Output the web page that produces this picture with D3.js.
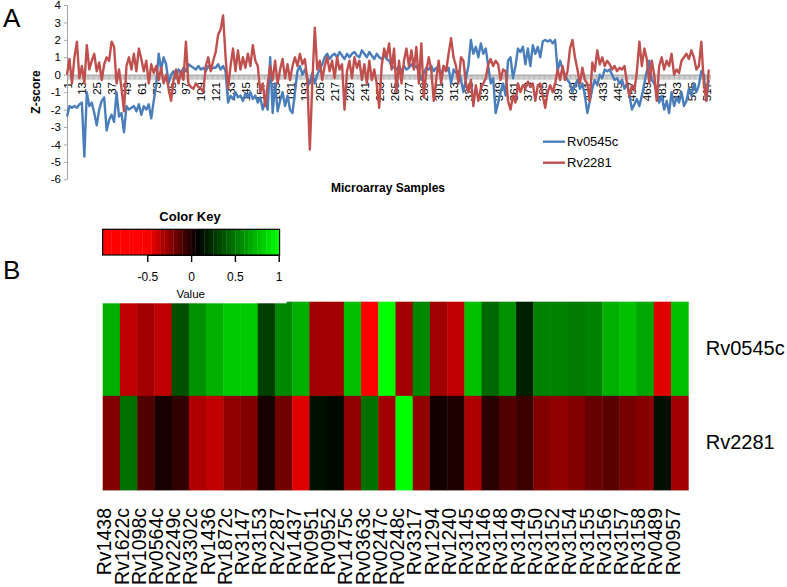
<!DOCTYPE html>
<html>
<head>
<meta charset="utf-8">
<script src="https://cdn.jsdelivr.net/npm/d3@7"></script>
<style>
  body { margin: 0; background: #fff; }
  svg { display: block; font-family: "Liberation Sans", Arial, sans-serif; }
</style>
</head>
<body>
<svg id="chart" width="787" height="587"></svg>
<script>
// Panel A: z-scores per microarray sample (read every other sample)
const seriesNames = ['Rv0545c', 'Rv2281'];
const sampleIds = d3.range(1, 520, 2);
const rv0545cZ = [
  -2.4,-1.8,-1.9,-1.8,-1.9,-1.7,-1.6,-4.7,-1.0,-1.8,
  -1.6,-2.2,-2.9,-2.0,-1.5,-1.3,-3.2,-2.6,-2.3,-2.7,
  -1.0,-2.4,-2.2,-3.3,-1.8,-2.0,-1.9,-1.8,-2.1,-1.7,
  -2.3,-1.8,-2.0,-1.7,-2.5,-1.5,-0.6,1.2,0.3,1.0,
  0.6,-0.5,0.0,0.2,-0.2,0.3,0.1,0.4,0.2,0.6,
  0.5,0.4,0.3,0.5,0.3,0.4,0.2,0.5,0.3,0.4,
  0.4,0.6,0.3,0.5,0.2,-1.6,-1.2,-1.4,-1.0,-1.3,
  -1.2,-1.5,-1.1,-1.3,-1.0,-1.4,-1.2,-1.6,-1.3,-2.0,
  -1.5,-2.0,1.0,-2.2,-0.5,-2.1,-1.5,-1.0,-1.8,-1.2,
  -2.0,-2.2,-1.0,0.2,0.5,0.0,0.3,-0.2,-0.5,0.1,
  -0.5,0.0,0.3,0.6,1.0,1.2,0.9,1.1,1.2,1.0,
  1.3,1.1,0.9,1.2,1.0,1.2,1.3,1.1,1.0,1.4,
  1.2,1.0,1.3,1.1,0.9,1.2,1.0,0.9,1.1,0.9,
  0.8,0.5,0.4,0.3,0.5,0.2,0.5,0.3,0.4,0.6,
  0.4,0.5,0.2,-0.3,0.1,0.4,0.3,0.5,0.2,0.4,
  0.3,0.0,0.5,0.2,0.4,-0.5,0.3,0.1,0.2,-0.3,
  -1.0,-0.2,0.5,2.0,1.2,1.6,1.0,1.8,1.2,1.5,
  0.5,-0.5,-0.2,-2.2,-1.6,-1.0,-0.5,-1.2,0.8,1.0,
  -0.2,0.5,1.5,1.3,1.6,0.6,1.5,0.5,1.7,1.2,
  1.6,1.0,1.9,2.0,1.9,2.0,1.8,2.0,0.2,0.8,
  0.3,0.0,-0.3,-0.5,-1.0,-0.6,-0.3,-0.8,-0.5,-1.2,
  -2.2,-1.5,-0.8,-0.3,-0.6,0.0,-0.2,0.3,0.2,0.3,
  0.0,-0.3,-0.2,-0.5,-0.3,-0.8,-0.5,-1.2,-2.0,-1.7,
  -1.4,-1.8,-1.2,-0.5,0.2,0.8,-0.3,-0.5,-1.0,-1.6,
  -1.2,-2.0,-1.5,-2.2,-1.0,-1.8,-1.3,-1.6,-1.0,-1.8,
  -1.5,-0.8,-1.2,-0.5,-1.0,-0.6,0.2,0.0,-1.5,-0.3
];
const rv2281Z = [
  0.0,0.9,-0.5,1.0,1.9,-0.2,0.5,-0.5,1.7,0.3,
  0.8,1.2,0.2,0.7,-0.3,0.6,1.0,0.8,1.9,1.6,
  -0.5,0.3,-0.8,-2.1,0.5,1.0,0.3,1.2,0.2,1.5,
  0.9,0.2,0.8,-0.5,0.6,0.1,0.5,-0.3,0.4,-0.5,
  0.0,-0.8,-1.5,-0.3,0.3,-0.5,0.2,-0.3,1.9,-0.5,
  -0.7,-0.8,-0.5,-0.7,-0.8,-1.0,0.5,1.0,0.2,0.8,
  1.3,2.3,2.6,3.4,1.0,-0.8,0.5,1.5,0.2,1.4,
  0.3,1.0,0.4,1.2,0.5,1.7,0.8,0.5,-1.0,-0.5,
  -1.8,-0.5,0.5,-0.3,0.8,-0.5,0.3,0.9,-0.2,0.6,
  -0.3,0.5,1.0,0.5,1.2,0.6,0.9,-0.3,-4.3,-0.5,
  2.7,0.3,0.8,-0.3,0.5,1.0,0.2,0.8,-0.2,1.0,
  0.3,0.6,-2.0,0.2,0.8,-0.2,1.0,0.4,0.8,-0.3,
  0.6,-0.5,0.8,-0.3,0.3,-0.5,-1.9,0.5,1.5,1.0,
  1.8,0.3,1.5,-1.0,0.8,-0.5,0.8,1.5,0.5,1.4,
  0.3,1.6,-0.5,1.8,-1.3,0.2,1.0,0.3,-1.5,-0.3,
  0.8,-0.5,0.5,0.2,1.2,2.1,1.0,0.5,-0.5,1.0,
  0.8,-0.5,-1.0,-0.3,-1.8,-0.6,-1.5,-0.8,-0.5,-0.2,
  0.6,0.9,0.5,0.8,0.6,-0.3,0.3,0.2,-1.5,-2.0,
  -1.2,-1.6,-0.5,-1.0,-0.6,-0.8,-0.4,-0.7,-0.5,-1.5,
  -0.6,-0.5,-1.2,-1.9,-1.0,-0.6,-1.0,-0.5,0.3,-0.3,
  0.5,-0.3,0.2,1.5,2.0,1.0,0.3,-0.5,0.4,-0.3,
  -0.5,-1.5,0.7,0.2,1.4,0.6,1.0,0.5,0.8,0.6,
  0.3,0.5,0.2,0.4,0.3,0.5,-0.5,-1.2,-0.6,-0.9,
  0.2,1.9,0.5,1.5,0.9,-0.5,0.8,0.0,-1.5,0.5,
  1.0,0.3,0.8,0.5,1.2,0.0,0.3,0.1,0.8,1.0,
  1.2,0.9,1.4,1.0,0.3,0.5,1.9,-0.5,-1.5,0.3
];
const sampleTicks = [1, 13, 25, 37, 49, 61, 73, 85, 97, 109, 121, 133, 145, 157, 169,
  181, 193, 205, 217, 229, 241, 253, 265, 277, 289, 301, 313, 325, 337, 349, 361,
  373, 385, 397, 409, 421, 433, 445, 457, 469, 481, 493, 505, 517];
const zTicks = [4, 3, 2, 1, 0, -1, -2, -3, -4, -5, -6];

// Panel B: heatmap
const genes = ['Rv1438', 'Rv1622c', 'Rv1098c', 'Rv0564c', 'Rv2249c', 'Rv3302c', 'Rv1436',
  'Rv1872c', 'Rv3147', 'Rv3153', 'Rv2287', 'Rv1437', 'Rv0951', 'Rv0952', 'Rv1475c',
  'Rv0363c', 'Rv0247c', 'Rv0248c', 'Rv3317', 'Rv1294', 'Rv1240', 'Rv3145', 'Rv3146',
  'Rv3148', 'Rv3149', 'Rv3150', 'Rv3152', 'Rv3154', 'Rv3155', 'Rv3156', 'Rv3157',
  'Rv3158', 'Rv0489', 'Rv0957'];
const heatRows = ['Rv0545c', 'Rv2281'];
const heatRv0545c = [0.71, -0.36, -0.29, -0.36, 0.36, 0.60, 0.71, 0.81, 0.81, 0.30, 0.57,
  0.71, -0.29, -0.29, 0.77, -0.55, 1.0, -0.29, 0.57, -0.29, -0.36, 0.77, 0.45, 0.60,
  0.19, 0.54, 0.54, 0.52, 0.54, 0.71, 0.77, 0.68, -0.43, 0.77];
const heatRv2281 = [-0.22, 0.48, -0.11, 0.02, -0.04, -0.32, -0.36, -0.25, -0.22, 0.02,
  -0.18, -0.43, 0.13, 0.10, -0.25, 0.48, -0.29, 1.0, -0.25, 0.03, 0.0, -0.32, -0.02,
  -0.11, -0.06, -0.22, -0.25, -0.22, -0.16, -0.13, -0.20, -0.23, 0.13, -0.29];
const keyTicks = [-0.5, 0, 0.5, 1];

const svg = d3.select('#chart');
const font = '"Liberation Sans", Arial, sans-serif';
const plain = d => String(d); // keep ASCII hyphen for negatives

// ---------- A ----------
const x = d3.scaleLinear().domain([1, 520]).range([67, 710]);
const y = d3.scaleLinear().domain([-6, 4]).range([179.3, 5]);

svg.append('text').attr('x', 3).attr('y', 27).attr('font-size', 26).text('A');
svg.append('text').attr('x', 3).attr('y', 279).attr('font-size', 26).text('B');

// dense category ticks along the zero line
svg.append('g')
  .attr('transform', `translate(0,${y(0)})`)
  .call(d3.axisBottom(x).tickValues(d3.range(1, 521)).tickSize(5).tickSizeOuter(0).tickFormat(''))
  .call(g => g.selectAll('line').attr('stroke', '#a6a6a6').attr('stroke-width', 0.8))
  .call(g => g.select('.domain').attr('stroke', '#a6a6a6'));

svg.append('g')
  .attr('transform', `translate(0,${y(0)})`)
  .call(d3.axisBottom(x).tickValues(sampleTicks).tickSize(0).tickFormat(plain))
  .call(g => g.select('.domain').remove())
  .call(g => g.selectAll('text')
    .attr('font-family', font).attr('font-size', 11.5).attr('fill', '#000')
    .attr('y', 0).attr('x', -7.3).attr('dy', '0.35em')
    .attr('transform', 'rotate(-90)')
    .style('text-anchor', 'end'));

svg.append('g')
  .attr('transform', 'translate(67,0)')
  .call(d3.axisLeft(y).tickValues(zTicks).tickSize(3).tickSizeOuter(0).tickPadding(3).tickFormat(plain))
  .call(g => g.select('.domain').attr('stroke', '#a6a6a6'))
  .call(g => g.selectAll('line').attr('stroke', '#a6a6a6'))
  .call(g => g.selectAll('text').attr('font-family', font).attr('font-size', 11.5).attr('fill', '#000'));

const line = d3.line().x((d, i) => x(sampleIds[i])).y(d => y(d));
const lineColors = ['#4a7ebb', '#c0504d'];
[rv0545cZ, rv2281Z].forEach((vals, k) => {
  svg.append('path')
    .datum(vals)
    .attr('d', line)
    .attr('fill', 'none')
    .attr('stroke', lineColors[k])
    .attr('stroke-width', 2.4)
    .attr('stroke-linejoin', 'round');
});

svg.append('text')
  .attr('transform', 'translate(40,92) rotate(-90)')
  .attr('text-anchor', 'middle').attr('font-size', 12).attr('font-weight', 'bold')
  .text('Z-score');
svg.append('text')
  .attr('x', 388).attr('y', 192)
  .attr('text-anchor', 'middle').attr('font-size', 12).attr('font-weight', 'bold')
  .text('Microarray Samples');

// legend
seriesNames.forEach((name, k) => {
  const ly = 141.7 + k * 21;
  svg.append('line').attr('x1', 543).attr('x2', 565).attr('y1', ly).attr('y2', ly)
    .attr('stroke', lineColors[k]).attr('stroke-width', 2.4);
  svg.append('text').attr('x', 567).attr('y', ly + 4.6).attr('font-size', 13).text(name);
});

// ---------- B ----------
const color = d3.scaleLinear()
  .domain([-1, -0.5, 0.07, 1])
  .range(['#ff0000', '#ff0000', '#000000', '#00ff00'])
  .clamp(true);

const hx = d3.scaleBand().domain(genes).range([102.7, 688.3]);
const hy = d3.scaleBand().domain(heatRows).range([301.7, 490]);

const cells = [];
genes.forEach((g, i) => {
  cells.push({ gene: g, row: heatRows[0], v: heatRv0545c[i] });
  cells.push({ gene: g, row: heatRows[1], v: heatRv2281[i] });
});

svg.append('g').selectAll('rect')
  .data(cells)
  .enter()
  .append('rect')
  .attr('x', d => hx(d.gene))
  .attr('y', d => hy(d.row))
  .attr('width', hx.bandwidth() + 0.4)
  .attr('height', hy.bandwidth() + 0.4)
  .attr('fill', d => color(d.v));

svg.append('g')
  .attr('transform', 'translate(0,490)')
  .call(d3.axisBottom(hx).tickSize(0))
  .call(g => g.select('.domain').remove())
  .call(g => g.selectAll('text')
    .attr('font-family', font).attr('font-size', 19.5).attr('fill', '#000')
    .attr('y', 0).attr('x', -18).attr('dy', 0)
    .attr('transform', 'rotate(-90)')
    .style('text-anchor', 'end'));

svg.append('g')
  .attr('transform', 'translate(688.3,0)')
  .call(d3.axisRight(hy).tickSize(0).tickPadding(17.4))
  .call(g => g.select('.domain').remove())
  .call(g => g.selectAll('text').attr('font-family', font).attr('font-size', 20).attr('fill', '#000'));

// colour key
svg.append('rect').attr('x', 90).attr('y', 200).attr('width', 196.7).attr('height', 103.3).attr('fill', '#fff');

const keyX = d3.scaleLinear().domain([-0.5, 1]).range([147.3, 278.7]);
const keyEdges = d3.range(41).map(i => -1.01 + i * 2.02 / 40);
svg.append('g').selectAll('rect')
  .data(keyEdges.slice(0, -1))
  .enter()
  .append('rect')
  .attr('x', (d, i) => keyX(d))
  .attr('y', 229.3)
  .attr('width', (d, i) => keyX(keyEdges[i + 1]) - keyX(d) + 0.3)
  .attr('height', 25.7)
  .attr('fill', (d, i) => color((d + keyEdges[i + 1]) / 2));
svg.append('rect')
  .attr('x', keyX(-1.01)).attr('y', 229.3)
  .attr('width', keyX(1.01) - keyX(-1.01)).attr('height', 25.7)
  .attr('fill', 'none').attr('stroke', '#000').attr('stroke-width', 1.2);

svg.append('g')
  .attr('transform', 'translate(0,255)')
  .call(d3.axisBottom(keyX).tickValues(keyTicks).tickSize(7).tickSizeOuter(0).tickPadding(10.5).tickFormat(plain))
  .call(g => g.selectAll('line').attr('stroke-width', 1.4))
  .call(g => g.selectAll('text').attr('font-family', font).attr('font-size', 12).attr('fill', '#000'));

svg.append('text').attr('x', 190).attr('y', 221)
  .attr('text-anchor', 'middle').attr('font-size', 13).attr('font-weight', 'bold')
  .text('Color Key');
svg.append('text').attr('x', 190.7).attr('y', 298)
  .attr('text-anchor', 'middle').attr('font-size', 11.5)
  .text('Value');
</script>
</body>
</html>
